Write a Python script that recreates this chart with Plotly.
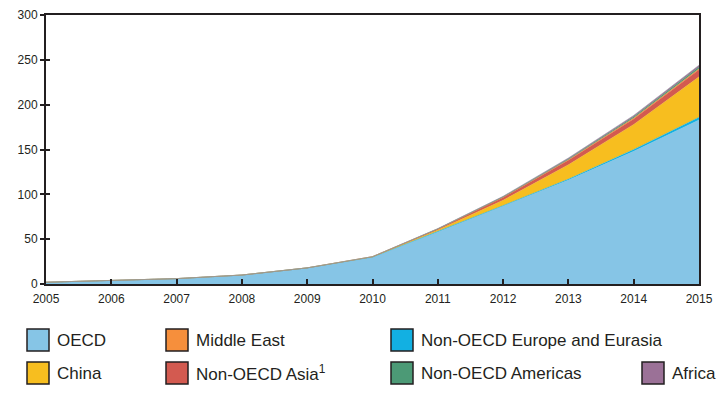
import plotly.graph_objects as go

years = [2005, 2006, 2007, 2008, 2009, 2010, 2011, 2012, 2013, 2014, 2015]
oecd = [2, 4, 6, 10, 18, 30, 58, 87, 116, 148, 183]
non_oecd_europe = [0, 0, 0, 0, 0, 0, 0.3, 0.5, 1, 2, 3]
china = [0, 0, 0, 0, 0, 0.3, 2, 6, 16, 28, 45]
non_oecd_asia = [0, 0, 0, 0, 0, 0.2, 1, 3, 5, 6, 8]
middle_east = [0, 0, 0, 0, 0, 0, 0.1, 0.3, 0.5, 1, 1]
non_oecd_americas = [0, 0, 0, 0, 0, 0, 0.2, 0.5, 1, 1.5, 2]
africa = [0, 0, 0, 0, 0, 0, 0.2, 0.5, 1, 1.5, 2]

y_ticks = [0, 50, 100, 150, 200, 250, 300]

series = [
    ("OECD", oecd, "#86C5E6"),
    ("Non-OECD Europe and Eurasia", non_oecd_europe, "#12B0E2"),
    ("China", china, "#F7BE1F"),
    ("Non-OECD Asia<sup>1</sup>", non_oecd_asia, "#D35A50"),
    ("Middle East", middle_east, "#F68F3C"),
    ("Non-OECD Americas", non_oecd_americas, "#4C9A76"),
    ("Africa", africa, "#9B7197"),
]

FONT = "Liberation Sans, Arial, sans-serif"
DARK = "#231F20"

fig = go.Figure()
for i, (name, vals, col) in enumerate(series):
    top = i == len(series) - 1
    fig.add_trace(go.Scatter(
        x=years, y=vals, name=name, stackgroup="one", mode="lines",
        line=dict(width=0.6 if top else 0.4, color="#a09aa8" if top else col),
        fillcolor=col, showlegend=False, hoverinfo="x+y+name",
    ))

# invisible trace on y2 so that the y ticks cross the axis line
fig.add_trace(go.Scatter(x=[2005], y=[0], yaxis="y2", showlegend=False,
                         mode="markers", marker=dict(opacity=0), hoverinfo="skip"))

L, R, T, B = 46, 29, 15, 110
W, H = 728, 394
pw, ph = W - L - R, H - T - B

def px_x(p):
    return (p - L) / pw

def px_y(p):
    return (H - B - p) / ph

legend_layout = [
    ("OECD", 27, 340), ("Middle East", 166, 340), ("Non-OECD Europe and Eurasia", 391, 340),
    ("China", 27, 373), ("Non-OECD Asia<sup>1</sup>", 166, 373),
    ("Non-OECD Americas", 391, 373), ("Africa", 642, 373),
]
colors = {n: c for n, _, c in series}
shapes = []
annotations = []
for name, x0, yc in legend_layout:
    sq = 22
    shapes.append(dict(type="rect", xref="paper", yref="paper",
                       x0=px_x(x0), x1=px_x(x0 + sq), y0=px_y(yc - sq / 2), y1=px_y(yc + sq / 2),
                       fillcolor=colors[name], line=dict(color=DARK, width=1.5)))
    annotations.append(dict(xref="paper", yref="paper", x=px_x(x0 + sq + 6), y=px_y(yc),
                            text=name, showarrow=False, xanchor="left", yanchor="middle",
                            font=dict(family=FONT, size=17, color=DARK)))

fig.update_layout(
    width=W, height=H, margin=dict(l=L, r=R, t=T, b=B),
    paper_bgcolor="white", plot_bgcolor="white",
    xaxis=dict(range=[2005, 2015], tickvals=years, ticktext=[str(y) for y in years],
               ticks="inside", ticklen=5, tickwidth=1.5, tickcolor=DARK, automargin=False,
               showline=True, linecolor=DARK, linewidth=2, mirror=True,
               showgrid=False, zeroline=False, ticklabelstandoff=3,
               tickfont=dict(family=FONT, size=12, color=DARK)),
    yaxis=dict(range=[0, 300], tickvals=y_ticks, ticks="outside", ticklen=4, tickwidth=1.5,
               tickcolor=DARK, showline=True, linecolor=DARK, linewidth=2, mirror=True,
               showgrid=False, zeroline=False, automargin=False,
               tickfont=dict(family=FONT, size=12, color=DARK)),
    yaxis2=dict(range=[0, 300], tickvals=y_ticks, overlaying="y", side="left",
                ticks="inside", ticklen=4, tickwidth=1.5, tickcolor=DARK, automargin=False,
                showticklabels=False, showgrid=False, zeroline=False, showline=False),
    shapes=shapes, annotations=annotations,
)

fig.write_html("out.html", post_script="document.body.style.margin='0';",
               config={"displayModeBar": False})
